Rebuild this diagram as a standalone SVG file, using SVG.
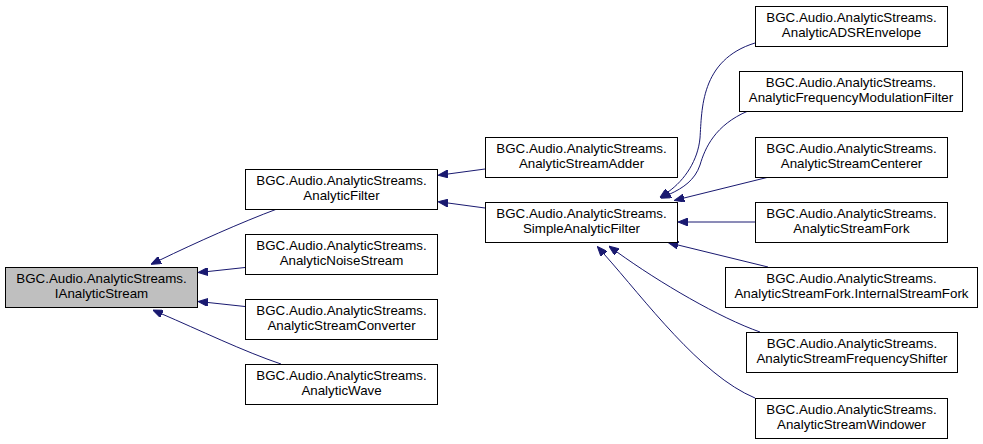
<svg xmlns="http://www.w3.org/2000/svg" width="983" height="444" viewBox="0 0 983 444">
<defs>
<style>
.n rect{fill:#ffffff;stroke:#000000;stroke-width:1}
.n.sel rect{fill:#bfbfbf}
.n text{font-family:"Liberation Sans",Arial,Helvetica,sans-serif;font-size:13.33px;fill:#000000;text-anchor:middle}
.e path{fill:none;stroke:#191970;stroke-width:1;marker-end:url(#ah)}
</style>
<marker id="ah" viewBox="0 0 10 8" refX="0" refY="4" markerWidth="10" markerHeight="8" markerUnits="userSpaceOnUse" orient="auto">
<path d="M0,0 L10,4 L0,8 z" fill="#191970" stroke="#191970" stroke-width="1"/>
</marker>
</defs>
<rect x="0" y="0" width="983" height="444" fill="#ffffff"/>
<g id="edges" class="e">
<path d="M277,209 C242,222 195,243 160,260"/>
<path d="M245,267.5 L208,271.5"/>
<path d="M245,306.5 L208,302.5"/>
<path d="M281,364 C245,352 197,329 162,314"/>
<path d="M485,169 L448,174"/>
<path d="M485,208 L448,203"/>
<path d="M755,43 C700,60 702,110 700,138 C698,160 685,180 668,192"/>
<path d="M748,111 C715,125 705,148 700,165 C695,180 683,188 670,194"/>
<path d="M769,177 L684,198"/>
<path d="M755,222 L688,222"/>
<path d="M768,267 L678,245"/>
<path d="M760,332 C720,318 660,283 617,252"/>
<path d="M755,398 C700,375 645,300 604,254"/>
</g>
<g id="IAnalyticStream" class="n sel"><rect x="5.5" y="267.5" width="192" height="40"/><text x="101.5" y="282.5">BGC.Audio.AnalyticStreams.</text><text x="101.5" y="297.5">IAnalyticStream</text></g>
<g id="AnalyticFilter" class="n"><rect x="245.5" y="169.5" width="192" height="40"/><text x="341.5" y="184.5">BGC.Audio.AnalyticStreams.</text><text x="341.5" y="199.5">AnalyticFilter</text></g>
<g id="AnalyticNoiseStream" class="n"><rect x="245.5" y="234.5" width="192" height="40"/><text x="341.5" y="249.5">BGC.Audio.AnalyticStreams.</text><text x="341.5" y="264.5">AnalyticNoiseStream</text></g>
<g id="AnalyticStreamConverter" class="n"><rect x="245.5" y="299.5" width="192" height="40"/><text x="341.5" y="314.5">BGC.Audio.AnalyticStreams.</text><text x="341.5" y="329.5">AnalyticStreamConverter</text></g>
<g id="AnalyticWave" class="n"><rect x="245.5" y="364.5" width="192" height="40"/><text x="341.5" y="379.5">BGC.Audio.AnalyticStreams.</text><text x="341.5" y="394.5">AnalyticWave</text></g>
<g id="AnalyticStreamAdder" class="n"><rect x="485.5" y="137.5" width="192" height="40"/><text x="581.5" y="152.5">BGC.Audio.AnalyticStreams.</text><text x="581.5" y="167.5">AnalyticStreamAdder</text></g>
<g id="SimpleAnalyticFilter" class="n"><rect x="485.5" y="202.5" width="192" height="40"/><text x="581.5" y="217.5">BGC.Audio.AnalyticStreams.</text><text x="581.5" y="232.5">SimpleAnalyticFilter</text></g>
<g id="AnalyticADSREnvelope" class="n"><rect x="755.5" y="6.5" width="192" height="40"/><text x="851.5" y="21.5">BGC.Audio.AnalyticStreams.</text><text x="851.5" y="36.5">AnalyticADSREnvelope</text></g>
<g id="AnalyticFrequencyModulationFilter" class="n"><rect x="739.5" y="71.5" width="223" height="40"/><text x="851" y="86.5">BGC.Audio.AnalyticStreams.</text><text x="851" y="101.5">AnalyticFrequencyModulationFilter</text></g>
<g id="AnalyticStreamCenterer" class="n"><rect x="755.5" y="137.5" width="192" height="40"/><text x="851.5" y="152.5">BGC.Audio.AnalyticStreams.</text><text x="851.5" y="167.5">AnalyticStreamCenterer</text></g>
<g id="AnalyticStreamFork" class="n"><rect x="755.5" y="202.5" width="192" height="40"/><text x="851.5" y="217.5">BGC.Audio.AnalyticStreams.</text><text x="851.5" y="232.5">AnalyticStreamFork</text></g>
<g id="InternalStreamFork" class="n"><rect x="725.5" y="267.5" width="252" height="40"/><text x="851.5" y="282.5">BGC.Audio.AnalyticStreams.</text><text x="851.5" y="297.5">AnalyticStreamFork.InternalStreamFork</text></g>
<g id="AnalyticStreamFrequencyShifter" class="n"><rect x="746.5" y="332.5" width="211" height="40"/><text x="852" y="347.5">BGC.Audio.AnalyticStreams.</text><text x="852" y="362.5">AnalyticStreamFrequencyShifter</text></g>
<g id="AnalyticStreamWindower" class="n"><rect x="755.5" y="398.5" width="192" height="40"/><text x="851.5" y="413.5">BGC.Audio.AnalyticStreams.</text><text x="851.5" y="428.5">AnalyticStreamWindower</text></g>
</svg>
